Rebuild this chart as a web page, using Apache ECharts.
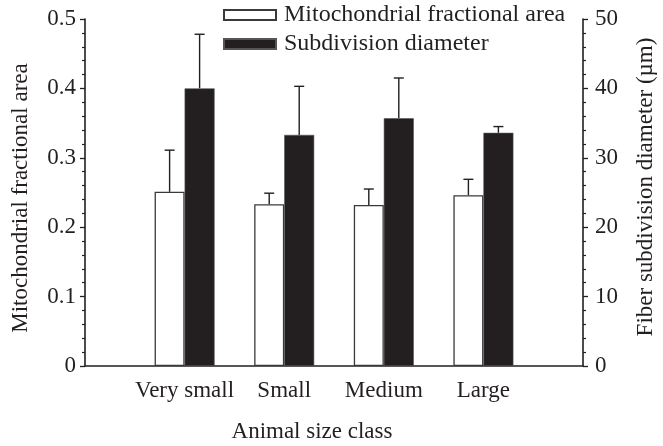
<!DOCTYPE html>
<html>
<head>
<meta charset="utf-8">
<script src="https://cdn.jsdelivr.net/npm/echarts@6/dist/echarts.min.js"></script>
<style>
html,body{margin:0;padding:0;background:#fff;}
#chart{width:663px;height:446px;}
</style>
</head>
<body>
<div id="chart"></div>
<script>
// ---- data ----
const categories = ['Very small', 'Small', 'Medium', 'Large'];
const mitoArea = [0.251, 0.233, 0.232, 0.246];
const mitoAreaErrTop = [0.311, 0.249, 0.255, 0.269];
const subDiameter = [40.0, 33.3, 35.7, 33.6];
const subDiameterErrTop = [47.8, 40.3, 41.5, 34.5];
const leftTicks = [0, 0.1, 0.2, 0.3, 0.4, 0.5];
const rightTicks = [0, 10, 20, 30, 40, 50];
const seriesNames = ['Mitochondrial fractional area', 'Subdivision diameter'];
const xTitle = 'Animal size class';
const yLeftTitle = 'Mitochondrial fractional area';
const yRightTitle = 'Fiber subdivision diameter (µm)';

// ---- build ----
const axisCats = [''].concat(categories, ['']);
const pad = arr => [null].concat(arr, [null]);
const FONT = '"Liberation Serif", "Times New Roman", serif';
const INK = '#231f20';
const BW = 30;

function errItem(offset) {
  return function (params, api) {
    const x = api.value(0);
    const top = api.coord([x, api.value(2)]);
    const base = api.coord([x, api.value(1)]);
    const cx = top[0] + offset;
    const cap = 5;
    return {
      type: 'group',
      children: [
        { type: 'line', shape: { x1: cx, y1: base[1], x2: cx, y2: top[1] }, style: { stroke: INK, lineWidth: 1.4 } },
        { type: 'line', shape: { x1: cx - cap, y1: top[1], x2: cx + cap, y2: top[1] }, style: { stroke: INK, lineWidth: 1.4 } }
      ]
    };
  };
}

const chart = echarts.init(document.getElementById('chart'), null, { renderer: 'canvas' });
const axisCommon = {
  axisLine: { show: true, lineStyle: { color: INK, width: 1.6 } },
  axisTick: { show: true, inside: false, length: 5, lineStyle: { color: INK, width: 1.3 } },
  minorTick: { show: true, splitNumber: 5, length: 3, lineStyle: { color: INK, width: 1.2 } },
  splitLine: { show: false },
  axisLabel: { color: INK, fontFamily: FONT, fontSize: 23 }
};

chart.setOption({
  animation: false,
  backgroundColor: '#fff',
  textStyle: { fontFamily: FONT },
  grid: { left: 85, right: 80, top: 19, bottom: 80, containLabel: false },
  legend: {
    orient: 'vertical',
    left: 223,
    top: 3,
    padding: 0,
    itemWidth: 52,
    itemHeight: 10,
    itemGap: 5,
    icon: 'rect',
    textStyle: { color: INK, fontFamily: FONT, fontSize: 24, padding: [0, 0, 0, 3] },
    data: seriesNames
  },
  xAxis: {
    type: 'category',
    data: axisCats,
    boundaryGap: false,
    axisLine: { show: true, lineStyle: { color: INK, width: 1.6 } },
    axisTick: { show: false },
    axisLabel: { color: INK, fontFamily: FONT, fontSize: 23, margin: 13, interval: 0 },
    splitLine: { show: false }
  },
  yAxis: [
    Object.assign({}, axisCommon, {
      type: 'value', position: 'left', min: 0, max: 0.5, interval: 0.1,
      axisLabel: Object.assign({}, axisCommon.axisLabel, { margin: 9, formatter: v => (v === 0 ? '0' : v.toFixed(1)) })
    }),
    Object.assign({}, axisCommon, {
      type: 'value', position: 'right', min: 0, max: 50, interval: 10,
      axisLabel: Object.assign({}, axisCommon.axisLabel, { margin: 12 })
    })
  ],
  series: [
    {
      name: seriesNames[0], type: 'bar', yAxisIndex: 0, barWidth: BW, barGap: '0%',
      itemStyle: { color: '#ffffff', borderColor: '#3a3a3a', borderWidth: 1.3 },
      data: pad(mitoArea)
    },
    {
      name: seriesNames[1], type: 'bar', yAxisIndex: 1, barWidth: BW, barGap: '0%',
      itemStyle: { color: INK, borderColor: '#555', borderWidth: 0.6 },
      data: pad(subDiameter)
    },
    {
      name: 'err0', type: 'custom', yAxisIndex: 0, z: 1,
      renderItem: errItem(-BW / 2),
      data: categories.map((c, i) => [i + 1, mitoArea[i], mitoAreaErrTop[i]])
    },
    {
      name: 'err1', type: 'custom', yAxisIndex: 1, z: 1,
      renderItem: errItem(BW / 2),
      data: categories.map((c, i) => [i + 1, subDiameter[i], subDiameterErrTop[i]])
    }
  ],
  graphic: [
    { type: 'text', x: 312, y: 432, style: { text: xTitle, font: '23px ' + FONT, fill: INK, align: 'center', verticalAlign: 'middle' } },
    { type: 'text', x: 21, y: 198, rotation: Math.PI / 2, style: { text: yLeftTitle, font: '23px ' + FONT, fill: INK, align: 'center', verticalAlign: 'middle' } },
    { type: 'text', x: 646, y: 187, rotation: Math.PI / 2, style: { text: yRightTitle, font: '23px ' + FONT, fill: INK, align: 'center', verticalAlign: 'middle' } }
  ]
});
</script>
</body>
</html>
